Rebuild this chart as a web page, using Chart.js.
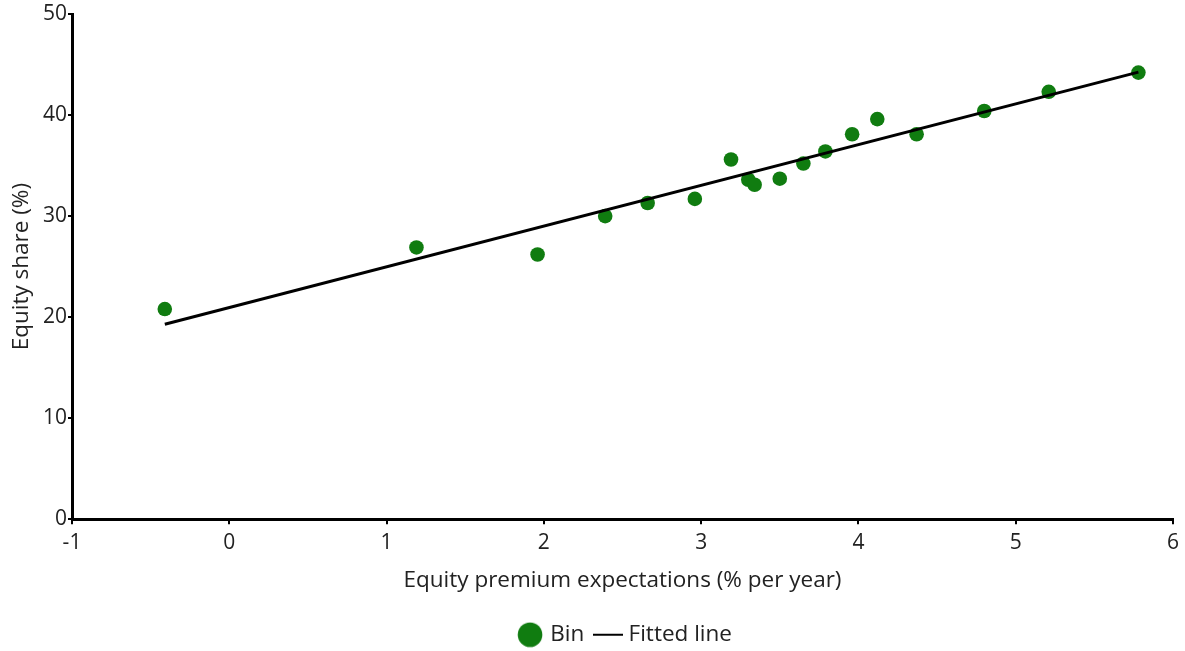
<!DOCTYPE html>
<html>
<head>
<meta charset="utf-8">
<script src="https://cdn.jsdelivr.net/npm/chart.js@4.4.1/dist/chart.umd.min.js"></script>
<style>
  html, body { margin: 0; padding: 0; background: #fff; overflow: hidden; }
  #wrap { width: 1185px; height: 656px; position: relative; }
</style>
</head>
<body>
<div id="wrap"><canvas id="c"></canvas></div>
<script>
// Binned equity premium expectations (% per year) and equity share (%)
const binPremium = [-0.41, 1.19, 1.96, 2.39, 2.66, 2.96, 3.19, 3.30, 3.34, 3.50, 3.65, 3.79, 3.96, 4.12, 4.37, 4.80, 5.21, 5.78];
const binShare   = [20.8, 26.9, 26.2, 30.0, 31.3, 31.7, 35.6, 33.6, 33.1, 33.7, 35.2, 36.4, 38.1, 39.6, 38.1, 40.4, 42.3, 44.2];

// Fitted line end points
const fitPremium = [-0.41, 5.78];
const fitShare   = [19.3, 44.25];

const xTicks = [-1, 0, 1, 2, 3, 4, 5, 6];
const yTicks = [0, 10, 20, 30, 40, 50];

const GREEN = '#107C10';
const INK = '#222222';
const FONT = "'Open Sans', 'Noto Sans', sans-serif";

// Legend glyphs
function circleGlyph() {
  const cv = document.createElement('canvas');
  cv.width = 26; cv.height = 26;
  const g = cv.getContext('2d');
  g.fillStyle = GREEN;
  g.beginPath(); g.arc(13, 13, 12.3, 0, Math.PI * 2); g.fill();
  return cv;
}
function lineGlyph() {
  const cv = document.createElement('canvas');
  cv.width = 30; cv.height = 4;
  const g = cv.getContext('2d');
  g.fillStyle = '#000';
  g.fillRect(0, 1, 30, 2);
  return cv;
}
const legendIcons = [circleGlyph(), lineGlyph()];

// Center the legend row under the plot area rather than the whole canvas
const legendUnderPlot = {
  id: 'legendUnderPlot',
  afterLayout(chart) {
    if (chart.legend) {
      chart.legend.left = chart.chartArea.left + 8;
      chart.legend.right = chart.chartArea.right;
    }
  }
};

const ctx = document.getElementById('c').getContext('2d');
new Chart(ctx, {
  type: 'scatter',
  plugins: [legendUnderPlot],
  data: {
    datasets: [
      {
        label: 'Bin',
        data: binPremium.map((x, i) => ({ x: x, y: binShare[i] })),
        backgroundColor: GREEN,
        borderColor: GREEN,
        pointRadius: 7.3,
        pointHoverRadius: 7.3,
        borderWidth: 0,
        order: 2
      },
      {
        label: 'Fitted line',
        type: 'line',
        data: fitPremium.map((x, i) => ({ x: x, y: fitShare[i] })),
        borderColor: '#000',
        borderWidth: 3,
        pointRadius: 0,
        fill: false,
        order: 1
      }
    ]
  },
  options: {
    responsive: true,
    maintainAspectRatio: false,
    animation: false,
    layout: { padding: { top: 14, right: 11, left: 0, bottom: 0 } },
    plugins: {
      tooltip: { enabled: false },
      legend: {
        position: 'bottom',
        labels: {
          usePointStyle: true,
          boxHeight: 20,
          boxWidth: 18,
          padding: 15,
          color: INK,
          font: { family: FONT, size: 22.5 },
          generateLabels(chart) {
            return chart.data.datasets.map((ds, i) => ({
              text: ds.label,
              pointStyle: legendIcons[i],
              fillStyle: ds.borderColor,
              strokeStyle: ds.borderColor,
              lineWidth: 0,
              hidden: false,
              datasetIndex: i,
              fontColor: INK
            }));
          }
        }
      }
    },
    scales: {
      x: {
        type: 'linear',
        min: -1,
        max: 6,
        afterBuildTicks(scale) { scale.ticks = xTicks.map(v => ({ value: v })); },
        afterFit(scale) { scale.height = 89.25; },
        border: { display: true, color: '#000', width: 3 },
        grid: { drawOnChartArea: false, drawTicks: true, tickLength: 5, color: '#000', lineWidth: 2 },
        ticks: { color: INK, padding: 6, font: { family: FONT, size: 21 } },
        title: {
          display: true,
          text: 'Equity premium expectations (% per year)',
          color: INK,
          font: { family: FONT, size: 22.5 },
          padding: { top: 4, bottom: 14.75 }
        }
      },
      y: {
        type: 'linear',
        min: 0,
        max: 50,
        afterBuildTicks(scale) { scale.ticks = yTicks.map(v => ({ value: v })); },
        afterFit(scale) { scale.width = 72; },
        border: { display: true, color: '#000', width: 3 },
        grid: { drawOnChartArea: false, drawTicks: true, tickLength: 4, color: '#000', lineWidth: 2 },
        ticks: { color: INK, padding: 1, font: { family: FONT, size: 21 } },
        title: {
          display: true,
          text: 'Equity share (%)',
          color: INK,
          font: { family: FONT, size: 22.5 },
          padding: { top: 8, bottom: 0 }
        }
      }
    }
  }
});
</script>
</body>
</html>
